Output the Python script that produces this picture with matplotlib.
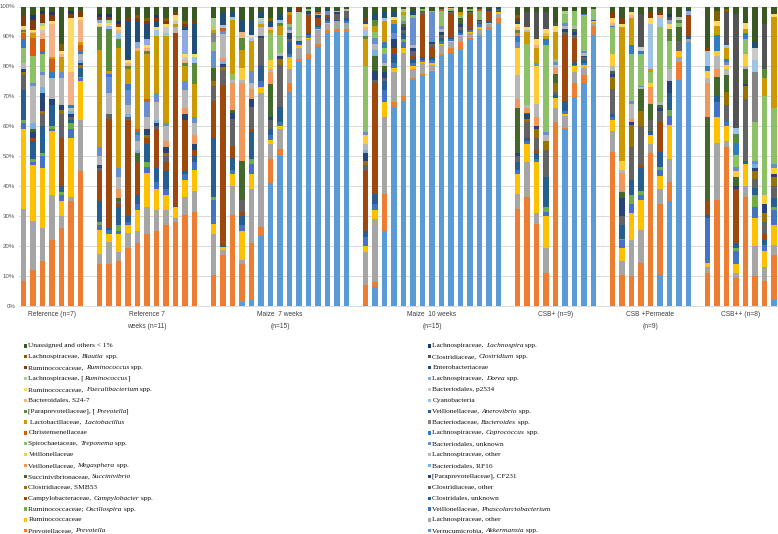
"""Relative abundance of faecal taxa per pig, 100 % stacked columns (Excel look)."""
import colorsys

import matplotlib
matplotlib.use("Agg")
import matplotlib.pyplot as plt
from matplotlib.patches import Rectangle
import numpy as np

W, H = 778, 534

# taxa in stacking order, bottom -> top; _text_ = italic
TAXA = [
    "Verrucumicrobia, _Akkermansia_ spp.",
    "Prevotellaceae, _Prevotella_",
    "Lachnospiraceae, other",
    "Ruminococcaceae",
    "Veillonellaceae, _Phascolarctobacterium_",
    "Ruminococcaceae; _Oscillospira_ spp.",
    "Clostridales, unknown",
    "Campylobacteraceae, _Campylobacter_ spp.",
    "Clostridiaceae, other",
    "Clostridiaceae, SMB53",
    "[Paraprevotellaceae], CF231",
    "Succinivibrionaceae, _Succinivibrio_",
    "Bacteriodales, RF16",
    "Veillonellaceae, _Megasphera_ spp.",
    "Lachnospiraceae, other",
    "Veillonellaceae",
    "Bacteriodales, unknown",
    "Spirochaetaceae, _Treponema_ spp.",
    "Lachnospiraceae, _Coprococcus_ spp.",
    "Christensenellaceae",
    "Bacteriodaceae, _Bacteroides_ spp.",
    " Lactobacillaceae, _Lactobacillus_",
    "Veillonellaceae, _Anerovibrio_ spp.",
    "[Paraprevotellaceae], [_Prevotella_]",
    "Cyanobacteria",
    "Bacteroidales, S24-7",
    "Bacteriodales, p2534",
    "Ruminococcaceae, _Faecalibacterium_ spp.",
    "Lachnospiraceae, _Dorea_ spp.",
    "Lachnospiraceae, [_Ruminococcus_]",
    "Enterobacteriaceae",
    "Ruminococcaceae, _Ruminococcus_ spp.",
    "Clostridiaceae, _Clostridium_ spp.",
    "Lachnospiraceae, _Blautia_ spp.",
    "Lachnospiraceae, _Lachnospira_ spp.",
    "Unassigned and others < 1%",
]

GROUP_LABELS = ["Reference (n=7)", "Reference 7\nweeks (n=11)", "Maize  7 weeks\n(n=15)",
                "Maize  10 weeks\n(n=15)", "CSB+ (n=9)", "CSB +Permeate\n(n=9)", "CSB++ (n=8)"]

REFERENCE = [
    {2: 8.5, 3: 24, 4: 26.5, 5: 2, 6: 1, 7: 10, 9: 5, 10: 1, 11: 1, 15: 2, 18: 5, 19: 3, 20: 2, 22: 0.5, 24: 0.5, 26: 0.5, 28: 1, 32: 3.5, 36: 3},
    {2: 12, 3: 16.5, 4: 18.5, 5: 1, 6: 1, 7: 6, 8: 1, 11: 2, 12: 1, 13: 2, 15: 12.5, 17: 1, 18: 9, 20: 6, 22: 1.5, 26: 0.5, 28: 0.5, 32: 3.5, 35: 1.5, 36: 3},
    {2: 15, 3: 11, 4: 20, 5: 4, 6: 1, 7: 9, 9: 4, 10: 1, 11: 6, 13: 2, 15: 4, 17: 1, 18: 6, 19: 1, 20: 4, 26: 2, 27: 1, 28: 1.5, 30: 1, 32: 3, 35: 1, 36: 1.5},
    {2: 22, 3: 15, 4: 21.5, 5: 0.5, 6: 1, 7: 7, 11: 2, 15: 7, 19: 2, 20: 4.5, 22: 0.5, 26: 11, 28: 1, 32: 2, 35: 1, 36: 2},
    {2: 26, 3: 4, 4: 5, 5: 2, 6: 1, 7: 2, 8: 16, 9: 8, 10: 1.5, 11: 1.5, 15: 9, 17: 2, 22: 5, 26: 1, 28: 1, 34: 2.5, 36: 12.5},
    {2: 35, 3: 1.5, 4: 19.5, 5: 3, 6: 2, 7: 1, 9: 1, 11: 1, 13: 1, 15: 1, 19: 1, 26: 11, 28: 18, 32: 1.5, 35: 1, 36: 1.5},
    {2: 45, 3: 17, 4: 13, 5: 1, 6: 0.5, 7: 3, 10: 1, 11: 0.5, 13: 1, 15: 2, 19: 1, 20: 2, 22: 1, 26: 7.5, 28: 1, 32: 2, 36: 1.5},
]

REFERENCE_7W = [
    {2: 14, 3: 3.5, 4: 8, 5: 1.5, 6: 1, 7: 7, 8: 10, 9: 1, 11: 1, 15: 3, 17: 3, 22: 32.5, 24: 7.5, 26: 0.5, 28: 1, 29: 1, 32: 1, 35: 1, 36: 2.5},
    {2: 14, 3: 7.5, 4: 2.5, 5: 1.5, 7: 0.5, 8: 36.5, 9: 1.5, 15: 7, 17: 5.5, 19: 1, 22: 1, 24: 14, 25: 1, 28: 1, 30: 1, 32: 1, 35: 1, 36: 2.5},
    {2: 15, 3: 3, 4: 6, 5: 1, 6: 2, 7: 6, 8: 1, 9: 1, 12: 1, 14: 3, 15: 4, 17: 3, 22: 40, 24: 3, 25: 2, 26: 1, 28: 1, 32: 1, 35: 1, 36: 5},
    {2: 19.5, 3: 5, 4: 2.5, 5: 1, 7: 2, 8: 32, 9: 1, 13: 1, 15: 3, 17: 5, 19: 2, 22: 5, 24: 1, 26: 1, 28: 1, 31: 13, 32: 1, 36: 4},
    {2: 21, 3: 4, 4: 7, 5: 2, 7: 3, 8: 11, 12: 3, 13: 1, 15: 3, 17: 2, 19: 1, 20: 1, 22: 26, 26: 1, 29: 2, 31: 7, 32: 1, 34: 1, 36: 3},
    {2: 24, 3: 9, 4: 11.5, 5: 2, 6: 1.5, 7: 6, 8: 2, 10: 1, 11: 2, 15: 4, 17: 5, 20: 1, 22: 15, 24: 1, 26: 1, 28: 1, 29: 2, 31: 5, 32: 1, 34: 1, 36: 4},
    {2: 25, 3: 7, 4: 7, 5: 2.5, 7: 4.5, 8: 13, 9: 1, 11: 1, 13: 1, 15: 6, 17: 3, 22: 19, 25: 2, 28: 1, 31: 2, 32: 1, 35: 1, 36: 3},
    {2: 27, 3: 5, 4: 5, 5: 2, 7: 6, 8: 3, 9: 2, 10: 1, 11: 2, 14: 2, 15: 5, 17: 1, 22: 29, 25: 1, 27: 2, 28: 1, 32: 1, 34: 1, 36: 4},
    {2: 28, 3: 1.5, 4: 3.5, 7: 0.5, 8: 57.5, 15: 2, 22: 1, 27: 1, 28: 2, 32: 1, 36: 2},
    {2: 30.5, 3: 6, 4: 5.5, 5: 2, 7: 1, 8: 17, 11: 2, 14: 2, 15: 6, 17: 3, 22: 5, 24: 1, 26: 1, 27: 1, 28: 1, 29: 8, 31: 1, 32: 1, 34: 1, 36: 5},
    {2: 31.5, 3: 7, 4: 7, 5: 2.5, 7: 2, 8: 2, 11: 2, 14: 3, 15: 4, 17: 2, 22: 11, 24: 7, 25: 2, 28: 1, 31: 10, 32: 1, 36: 5},
]

MAIZE_7W = [
    {2: 10.5, 3: 13.5, 4: 3.5, 5: 8, 6: 1, 7: 19.5, 8: 12.5, 9: 5, 10: 1.5, 12: 4.5, 17: 5.5, 18: 3, 21: 3, 22: 1, 30: 4, 36: 4},
    {2: 17, 3: 1.5, 4: 1, 7: 0.5, 8: 53, 9: 5, 10: 1, 11: 1, 13: 1, 14: 1, 15: 8, 17: 1, 20: 1, 25: 1, 31: 4, 36: 2},
    {2: 30.5, 3: 9.5, 4: 4, 5: 1.5, 7: 4, 8: 4, 9: 9, 11: 2, 12: 1, 14: 9, 15: 1, 18: 2, 22: 18, 25: 1, 31: 1.5, 36: 2},
    {1: 1.5, 2: 12.5, 3: 1.5, 4: 9.5, 5: 2, 7: 3, 8: 1.5, 9: 4, 12: 13, 14: 26, 15: 1, 16: 4, 22: 6, 24: 4, 26: 2, 31: 4, 36: 4.5},
    {1: 2, 2: 19, 3: 18, 4: 5, 5: 3.5, 6: 1.5, 7: 9, 8: 1, 9: 7.5, 11: 2.5, 14: 3.5, 15: 2, 17: 4, 22: 10, 25: 1, 28: 1, 31: 5, 36: 4.5},
    {1: 23.5, 2: 3, 3: 44.5, 4: 2, 5: 2, 7: 5, 8: 0.5, 9: 9, 11: 0.5, 15: 3, 22: 1, 25: 1, 27: 1, 31: 2, 36: 2},
    {1: 41, 2: 8, 3: 5, 4: 1.5, 5: 1.5, 7: 2, 9: 3, 11: 1, 12: 11, 14: 4, 15: 1, 16: 3, 18: 9, 22: 1, 26: 1, 31: 2, 34: 1, 36: 4},
    {1: 50, 2: 2.5, 3: 6.5, 4: 1, 5: 1.5, 7: 5, 9: 14, 10: 2, 11: 1, 15: 1, 18: 6, 22: 3, 24: 1, 25: 1, 31: 2, 36: 2.5},
    {1: 71.5, 2: 3, 3: 4.5, 4: 4, 5: 1, 7: 4, 9: 1, 11: 2, 15: 1, 17: 1, 18: 1, 20: 3, 22: 1, 31: 1, 36: 1},
    {1: 81.5, 2: 1, 3: 3.5, 4: 1, 5: 0.5, 7: 1, 15: 1, 18: 0.5, 30: 8, 32: 2},
    {1: 82.5, 2: 1.5, 3: 5, 4: 0.5, 5: 1, 7: 0.5, 8: 6, 9: 0.5, 11: 1, 18: 0.5, 36: 1},
    {1: 86.5, 2: 1, 3: 4.5, 4: 0.5, 5: 0.5, 7: 0.5, 8: 2.5, 11: 1, 15: 0.5, 20: 0.5, 31: 0.5, 36: 1.5},
    {1: 91, 2: 1, 3: 2, 4: 0.5, 5: 0.5, 7: 1, 8: 1, 17: 1.5, 31: 0.5, 36: 1},
    {1: 91.5, 2: 1, 3: 2.5, 7: 0.5, 9: 2, 11: 0.5, 15: 0.5, 36: 1.5},
    {1: 91.5, 2: 1, 3: 2, 5: 0.5, 7: 1, 9: 2.5, 15: 0.5, 36: 1},
]

MAIZE_10W = [
    {1: 0.5, 2: 6.5, 3: 11, 4: 2, 5: 3, 7: 2, 8: 20, 9: 2, 10: 1.5, 11: 2.5, 13: 1, 15: 2, 16: 3, 17: 1, 18: 22, 22: 9, 24: 1, 25: 2, 26: 1, 28: 1, 31: 1, 32: 1, 36: 4},
    {1: 6.5, 2: 1.5, 3: 21, 4: 3, 5: 2, 7: 3.5, 8: 37, 9: 1, 11: 3, 12: 5, 13: 2, 15: 2, 17: 2, 18: 2, 22: 2, 24: 2, 31: 2, 36: 2.5},
    {1: 25, 2: 12.5, 3: 25.5, 4: 5, 5: 4, 7: 3, 9: 1, 11: 2, 12: 2, 15: 1, 17: 3, 18: 2, 19: 2, 22: 7, 25: 1, 31: 2, 36: 2},
    {1: 66.5, 2: 1.5, 3: 10, 4: 1.5, 5: 1.5, 7: 3, 8: 2, 11: 3, 17: 2, 19: 3, 22: 1.5, 28: 1, 31: 1.5, 36: 2},
    {1: 68.5, 2: 1.5, 3: 14.5, 4: 1.5, 5: 2, 6: 1, 7: 2, 9: 1, 11: 1, 12: 1, 17: 1, 18: 2, 22: 1, 30: 1, 36: 1},
    {1: 75.5, 2: 0.5, 3: 3, 4: 1, 5: 1, 7: 1.5, 8: 1, 9: 1.5, 11: 1, 15: 1, 17: 9, 18: 1, 31: 1, 36: 2},
    {1: 77, 2: 0.5, 3: 3.5, 4: 0.5, 5: 0.5, 7: 1, 8: 14.5, 9: 0.5, 12: 0.5, 18: 0.5, 36: 1},
    {1: 78, 2: 0.5, 3: 2, 4: 0.5, 5: 1, 7: 1, 8: 3.5, 9: 1, 11: 0.5, 17: 10, 18: 0.5, 36: 1.5},
    {1: 83.5, 2: 0.5, 3: 3, 4: 0.5, 5: 1, 7: 1, 9: 1, 11: 1, 15: 1, 17: 1, 18: 5, 20: 0.5, 36: 1},
    {1: 84.5, 2: 1.5, 3: 2, 4: 0.5, 5: 0.5, 7: 0.5, 8: 8, 9: 0.5, 11: 0.5, 18: 0.5, 26: 0.5, 36: 0.5},
    {1: 85.5, 2: 2.5, 3: 2, 4: 0.5, 5: 0.5, 7: 1, 9: 1, 11: 1, 12: 2, 18: 1, 22: 1, 36: 2},
    {1: 89, 2: 0.5, 3: 1.5, 4: 0.5, 5: 0.5, 7: 0.5, 8: 5, 9: 0.5, 11: 0.5, 18: 0.5, 36: 1},
    {1: 90, 2: 0.5, 3: 2, 4: 0.5, 5: 1, 7: 0.5, 9: 0.5, 11: 0.5, 18: 3, 20: 0.5, 36: 1},
    {1: 92, 2: 1, 3: 1, 4: 0.5, 7: 0.5, 8: 3.5, 11: 0.5, 36: 1},
    {1: 94.5, 2: 1.5, 3: 1.5, 4: 0.5, 7: 0.5, 9: 0.5, 11: 0.5, 36: 0.5},
]

CSB_PLUS = [
    {2: 32.5, 3: 5, 4: 6.5, 5: 1.5, 7: 2.5, 9: 2, 11: 1, 12: 15, 14: 3, 15: 8, 16: 9, 17: 2, 19: 2, 22: 1, 24: 1, 26: 1, 28: 1, 31: 1, 32: 1, 34: 1, 36: 3},
    {2: 36.5, 3: 11.5, 4: 6, 5: 1, 7: 1, 8: 0.5, 9: 5, 10: 1, 11: 1.5, 12: 0.5, 14: 1.5, 15: 1, 18: 20.5, 22: 4, 25: 0.5, 28: 1, 33: 5, 36: 2},
    {2: 27.5, 3: 3.5, 4: 17, 5: 1, 7: 2, 8: 1, 9: 4, 10: 3, 11: 1, 14: 3, 15: 4.5, 16: 12.5, 17: 1, 22: 5, 26: 1, 28: 2, 33: 9, 36: 2},
    {2: 11, 3: 8.5, 4: 10.5, 5: 1.5, 6: 1.5, 7: 10, 9: 9, 10: 3, 15: 2, 17: 1, 18: 29, 19: 2, 22: 1, 26: 1, 28: 1.5, 33: 5.5, 36: 2},
    {1: 0.5, 2: 61, 3: 4.5, 4: 3.5, 7: 1, 9: 1, 10: 3, 12: 3, 14: 2, 15: 1, 17: 1, 18: 1, 22: 9, 28: 2, 33: 1, 36: 5.5},
    {1: 59, 2: 0.5, 3: 4, 4: 0.5, 5: 1, 7: 3.5, 8: 22, 9: 1, 11: 1, 15: 1, 17: 1, 18: 3, 30: 1, 36: 1.5},
    {1: 69.5, 2: 5, 3: 3.5, 4: 2, 5: 0.5, 7: 1, 8: 8, 9: 1, 11: 1, 12: 1, 15: 1, 18: 5, 36: 1.5},
    {1: 74.5, 2: 2.5, 3: 2.5, 4: 1, 5: 0.5, 7: 1, 9: 1, 11: 0.5, 15: 1, 17: 0.5, 18: 12, 19: 0.5, 36: 2.5},
    {1: 90.5, 2: 3, 3: 1, 4: 0.5, 7: 0.5, 18: 3.5, 36: 1},
]

CSB_PERMEATE = [
    {2: 51.5, 3: 7, 4: 3.5, 5: 1, 7: 1, 9: 8.5, 10: 4, 11: 1, 12: 1, 15: 1.5, 16: 4, 18: 9, 19: 0.5, 26: 1, 28: 1.5, 32: 2, 36: 2},
    {2: 10.5, 3: 4.5, 4: 4.5, 5: 2.5, 6: 0.5, 7: 4.5, 9: 3, 11: 6, 12: 2, 13: 0.5, 14: 6, 15: 1, 16: 3, 22: 44.5, 28: 1, 32: 2, 36: 4},
    {2: 10, 3: 12, 4: 9, 5: 3, 6: 3, 7: 5, 9: 11, 10: 7.5, 11: 1, 14: 1, 15: 5, 17: 1, 18: 15.5, 19: 3, 22: 9, 26: 1, 28: 1, 36: 2},
    {2: 14.5, 3: 11, 4: 10, 5: 1.5, 6: 1.5, 7: 7.5, 8: 1, 9: 13, 10: 5, 12: 7.5, 15: 0.5, 17: 0.5, 18: 10.5, 19: 1, 27: 1.5, 33: 11, 36: 2.5},
    {2: 51, 3: 3, 4: 3, 7: 1.5, 9: 3.5, 12: 5.5, 14: 5.5, 16: 1.5, 18: 3.5, 22: 1, 25: 15, 28: 2, 32: 2, 36: 2},
    {1: 10.5, 2: 23.5, 3: 5, 4: 4.5, 5: 2, 6: 1, 7: 5, 8: 10, 9: 3.5, 11: 1, 12: 1, 15: 1, 18: 25, 25: 3, 26: 1, 32: 1, 36: 2},
    {1: 35, 2: 6.5, 3: 7.5, 4: 11.5, 5: 3, 6: 2, 7: 5.5, 11: 4, 15: 4, 18: 9.5, 24: 4, 28: 1.5, 29: 1.5, 33: 1, 35: 1, 36: 2.5},
    {1: 75.5, 2: 6, 3: 1.5, 4: 2, 9: 3.5, 12: 4.5, 18: 1.5, 24: 1, 27: 1, 36: 3.5},
    {1: 88, 3: 1, 7: 1, 8: 7, 29: 1.5, 31: 0.5, 36: 1},
]

CSB_PLUSPLUS = [
    {2: 11, 3: 2, 4: 1.5, 5: 15, 7: 1, 8: 4.5, 12: 28, 14: 11.5, 15: 1.5, 16: 2.5, 19: 1.5, 25: 5, 32: 1, 36: 14},
    {2: 35.5, 3: 19, 4: 8.5, 5: 5, 7: 2, 12: 6.5, 14: 2.5, 15: 4.5, 16: 1.5, 19: 5.5, 22: 3, 28: 1.5, 34: 3.5, 36: 1.5},
    {2: 53, 3: 2, 4: 5, 5: 1.5, 9: 5.5, 10: 4.5, 12: 5.5, 15: 2, 16: 1.5, 17: 1, 19: 1, 22: 3.5, 25: 1, 33: 11, 34: 1, 36: 1},
    {2: 9.5, 3: 1.5, 4: 3, 5: 4.5, 6: 1, 7: 1.5, 8: 18, 11: 1, 12: 3, 16: 2, 17: 1.5, 18: 4, 19: 4, 24: 3, 25: 2, 33: 38, 36: 2.5},
    {2: 36.5, 3: 3.5, 4: 7.5, 7: 1, 9: 20.5, 10: 4.5, 11: 0.5, 12: 5, 15: 1, 16: 4, 18: 5, 19: 2, 22: 1.5, 28: 2, 36: 5.5},
    {2: 10, 3: 10, 4: 9.5, 5: 3.5, 6: 4, 7: 2.5, 9: 3, 10: 2.5, 11: 1, 13: 1.5, 17: 1, 18: 13, 21: 16.5, 25: 4, 27: 4, 31: 2, 36: 12},
    {2: 8.5, 3: 4.5, 4: 5.5, 5: 2, 7: 1.5, 8: 2, 9: 4, 10: 3, 11: 3, 16: 3, 18: 33, 22: 6, 24: 3, 33: 15, 36: 6},
    {1: 2, 2: 15, 3: 3.5, 4: 6.5, 5: 5, 6: 1, 7: 3, 9: 4, 10: 3, 11: 1, 16: 2, 17: 1.5, 18: 18.5, 22: 30.5, 28: 1, 36: 2.5},
]

GROUPS = [REFERENCE, REFERENCE_7W, MAIZE_7W, MAIZE_10W, CSB_PLUS, CSB_PERMEATE, CSB_PLUSPLUS]

# Office 2013 chart palette: 6 accents, then shades/tints of them
ACCENTS = ["#5B9BD5", "#ED7D31", "#A5A5A5", "#FFC000", "#4472C4", "#70AD47"]
LUM = [(1.0, 0.0), (0.6, 0.0), (0.8, 0.2), (0.8, 0.0), (0.6, 0.4), (0.5, 0.0)]


def office_colour(i):
    base = ACCENTS[i % 6]
    mod, off = LUM[i // 6]
    r, g, b = (int(base[k:k + 2], 16) / 255 for k in (1, 3, 5))
    h, l, s = colorsys.rgb_to_hls(r, g, b)
    return colorsys.hls_to_rgb(h, min(1.0, l * mod + off), s)


def rich_text(fig, renderer, x, y, s, **kw):
    """draw s at pixel (x, y from top); _..._ pieces in italics"""
    for i, piece in enumerate(s.split("_")):
        if not piece:
            continue
        t = fig.text(x / W, 1 - y / H, piece, style="italic" if i % 2 else "normal",
                     va="center", ha="left", **kw)
        x += t.get_window_extent(renderer).width


def main():
    n_taxa = len(TAXA)
    colours = [office_colour(i) for i in range(n_taxa)]

    rows, xpos, centres = [], [], []
    slot = 0
    for grp in GROUPS:
        xs = [slot + i for i in range(len(grp))]
        xpos += xs
        centres.append(np.mean(xs))
        slot += len(grp) + 1
        for d in grp:
            row = np.zeros(n_taxa)
            for k, v in d.items():
                row[k - 1] = v
            rows.append(row)
    mat = np.array(rows)
    mat = mat / mat.sum(axis=1, keepdims=True)  # 100 % stacked
    xpos = np.array(xpos)

    fig = plt.figure(figsize=(W / 100, H / 100), dpi=100)
    fig.patch.set_facecolor("white")
    ax = fig.add_axes([18.75 / W, 1 - 306 / H, 760 / W, 299.5 / H])

    bottom = np.zeros(len(xpos))
    for k in range(n_taxa):
        ax.bar(xpos, mat[:, k], bottom=bottom, width=0.63, color=colours[k],
               linewidth=0, zorder=2)
        bottom += mat[:, k]

    ax.set_xlim(-0.5, slot - 1.5)
    ax.set_ylim(0, 1)
    ax.set_yticks(np.linspace(0, 1, 11))
    ax.set_yticklabels([f"{v}%" for v in range(0, 101, 10)], fontsize=4.4,
                       color="#595959", family="Liberation Sans")
    ax.set_xticks([])
    ax.tick_params(axis="y", length=0, pad=2.5)
    ax.yaxis.grid(True, color="#D9D9D9", linewidth=0.7, zorder=0)
    ax.set_axisbelow(True)
    for sp in ("top", "left", "right"):
        ax.spines[sp].set_visible(False)
    ax.spines["bottom"].set_color("#D9D9D9")
    ax.spines["bottom"].set_linewidth(0.7)

    for c, lab in zip(centres, GROUP_LABELS):
        for li, line in enumerate(lab.split("\n")):
            ax.annotate(line, xy=(c, H - 315 - 11 * li), xycoords=("data", "figure pixels"),
                        ha="center", va="center", fontsize=4.8, color="#404040",
                        family="Liberation Sans", annotation_clip=False)

    # legend: two columns, 18 rows, top taxon first
    renderer = fig.canvas.get_renderer()
    for r in range(18):
        y = 346 + r * 10.87
        for sx, tx, idx in [(24, 28.5, n_taxa - 1 - 2 * r),
                            (428, 432.5, n_taxa - 2 - 2 * r)]:
            fig.add_artist(Rectangle((sx / W, 1 - (y + 1.6) / H), 3.2 / W, 3.2 / H,
                                     transform=fig.transFigure, color=colours[idx], lw=0))
            rich_text(fig, renderer, tx, y, TAXA[idx], fontsize=5.3,
                      family="Liberation Serif", color="#111111")

    fig.savefig("out.png", dpi=100, facecolor="white")
    plt.close(fig)


if __name__ == "__main__":
    main()
